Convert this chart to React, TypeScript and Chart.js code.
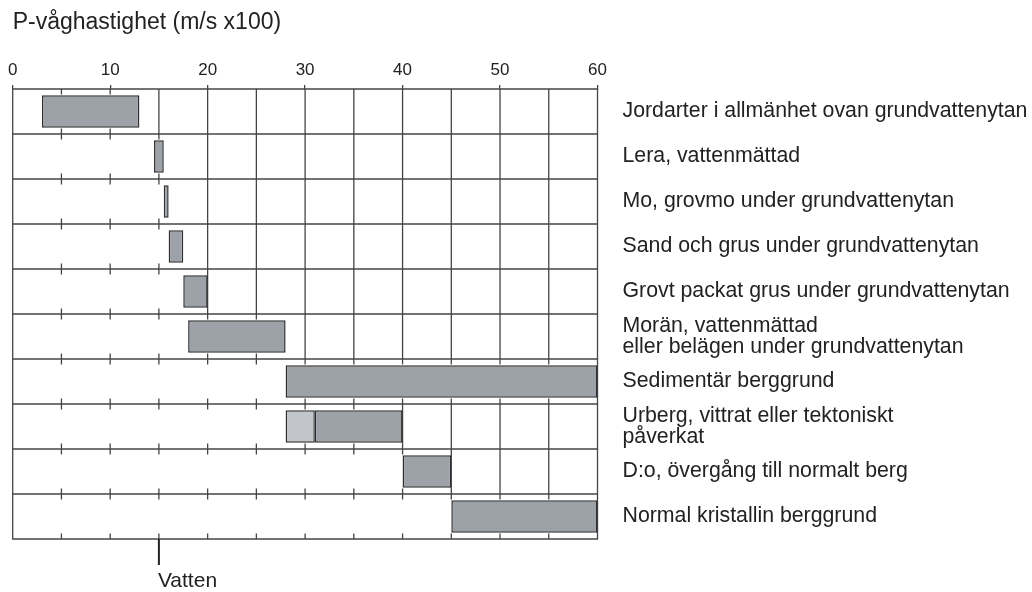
import React, { useEffect, useRef } from "react";
import { Chart, registerables } from "chart.js";

Chart.register(...registerables);

// ---- Data ----
const categories: (string | string[])[] = [
  "Jordarter i allmänhet ovan grundvattenytan",
  "Lera, vattenmättad",
  "Mo, grovmo under grundvattenytan",
  "Sand och grus under grundvattenytan",
  "Grovt packat grus under grundvattenytan",
  ["Morän, vattenmättad", "eller belägen under grundvattenytan"],
  "Sedimentär berggrund",
  ["Urberg, vittrat eller tektoniskt", "påverkat"],
  "D:o, övergång till normalt berg",
  "Normal kristallin berggrund",
];
const rangeStarts = [3, 14.5, 15.5, 16, 17.5, 18, 28, 31, 40, 45];
const rangeEnds = [13, 15.5, 16, 17.5, 20, 28, 60, 40, 45, 60];
const weatheredStarts: (number | null)[] = [null, null, null, null, null, null, null, 28, null, null];
const weatheredEnds: (number | null)[] = [null, null, null, null, null, null, null, 31, null, null];
const axisMin = 0;
const axisMax = 60;
const majorStep = 10;
const minorStep = 5;
const axisTitle = "P-våghastighet (m/s x100)";
const waterValue = 15;
const waterLabel = "Vatten";

const FONT = '"Liberation Sans", Arial, Helvetica, sans-serif';
const TEXT = "#222222";
const LINE = "#444444";

const gridPlugin = {
  id: "rowGrid",
  beforeDatasetsDraw(chart: any) {
    const { ctx, chartArea: a, scales } = chart;
    const x = scales.x;
    const y = scales.y;
    const seg = (x1: number, y1: number, x2: number, y2: number) => {
      ctx.beginPath();
      ctx.moveTo(x1, y1);
      ctx.lineTo(x2, y2);
      ctx.stroke();
    };
    ctx.save();
    ctx.strokeStyle = LINE;
    ctx.lineWidth = 1.3;
    const n = categories.length;
    for (let i = 0; i <= n; i++) {
      const py = y.getPixelForValue(i - 0.5);
      seg(a.left - 0.6, py, a.right + 0.6, py);
    }
    const tick = 5.5;
    for (let r = 0; r < n; r++) {
      const top = y.getPixelForValue(r - 0.5);
      const bot = y.getPixelForValue(r + 0.5);
      const ends = [rangeEnds[r], weatheredEnds[r]].filter((v) => v != null) as number[];
      const rowEnd = Math.max(...ends);
      for (let v = axisMin; v <= axisMax; v += minorStep) {
        const px = x.getPixelForValue(v);
        if (v === axisMin || v === axisMax || v >= rowEnd) {
          seg(px, top, px, bot);
        } else {
          seg(px, top, px, top + tick);
          seg(px, bot - tick, px, bot);
        }
      }
    }
    ctx.restore();
  },
  afterDraw(chart: any) {
    const { ctx, chartArea: a, scales } = chart;
    const px = scales.x.getPixelForValue(waterValue);
    ctx.save();
    ctx.strokeStyle = "#222";
    ctx.lineWidth = 2;
    ctx.beginPath();
    ctx.moveTo(px, a.bottom);
    ctx.lineTo(px, a.bottom + 26);
    ctx.stroke();
    ctx.fillStyle = TEXT;
    ctx.font = `21px ${FONT}`;
    ctx.textAlign = "left";
    ctx.textBaseline = "alphabetic";
    ctx.fillText(waterLabel, px - 1, a.bottom + 47.5);
    ctx.restore();
  },
};

export default function App() {
  const ref = useRef<HTMLCanvasElement | null>(null);
  useEffect(() => {
    if (!ref.current) return;
    const chart = new Chart(ref.current, {
      type: "bar",
      data: {
        labels: categories as any,
        datasets: [
          {
            label: "Intervall",
            data: rangeStarts.map((s, i) => [s, rangeEnds[i]]) as any,
            backgroundColor: "#9ca2a8",
            borderColor: "#2e2e2e",
            borderWidth: 1.5,
            borderSkipped: false,
            barPercentage: 0.725,
            categoryPercentage: 1,
            grouped: false,
          },
          {
            label: "Vittrat",
            data: weatheredStarts.map((s, i) =>
              s == null || weatheredEnds[i] == null ? null : [s, weatheredEnds[i]]
            ) as any,
            backgroundColor: "#c2c5cb",
            borderColor: "#2e2e2e",
            borderWidth: 1.5,
            borderSkipped: false,
            barPercentage: 0.725,
            categoryPercentage: 1,
            grouped: false,
          },
        ],
      },
      options: {
        indexAxis: "y",
        animation: false,
        responsive: false,
        devicePixelRatio: 1,
        layout: { padding: { left: 12.7, right: 0, top: 0, bottom: 53 } },
        plugins: {
          legend: { display: false },
          tooltip: { enabled: false },
          title: { display: false },
        },
        scales: {
          x: {
            type: "linear",
            position: "top",
            min: axisMin,
            max: axisMax,
            afterFit: (s: any) => {
              s.height = 89;
            },
            ticks: {
              stepSize: majorStep,
              autoSkip: false,
              maxRotation: 0,
              color: TEXT,
              padding: 4,
              font: { family: FONT, size: 17, lineHeight: 1.2 },
            },
            grid: {
              display: true,
              drawOnChartArea: false,
              drawTicks: true,
              tickLength: 4,
              color: LINE,
              lineWidth: 1.3,
            },
            border: { display: false },
            title: {
              display: true,
              text: axisTitle,
              align: "start",
              color: TEXT,
              font: { family: FONT, size: 23, lineHeight: 1.2 },
              padding: { top: 9, bottom: 0 },
            },
          },
          y: {
            type: "category",
            position: "right",
            afterFit: (s: any) => {
              s.width = 434.5;
            },
            ticks: {
              autoSkip: false,
              color: TEXT,
              padding: 25,
              font: { family: FONT, size: 21.3, lineHeight: 1.0 },
            },
            grid: { display: false, drawTicks: false },
            border: { display: false },
          },
        },
      },
      plugins: [gridPlugin],
    } as any);
    return () => chart.destroy();
  }, []);
  return (
    <div style={{ position: "fixed", left: 0, top: 0, width: 1032, height: 592, background: "#fff" }}>
      <canvas ref={ref} width={1032} height={592} style={{ display: "block" }} />
    </div>
  );
}
